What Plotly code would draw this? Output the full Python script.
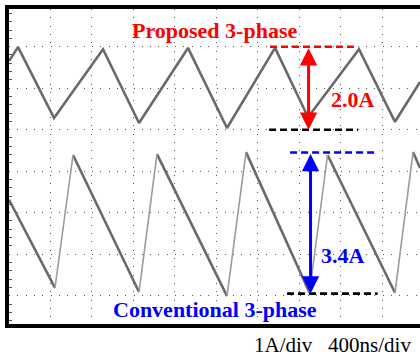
import plotly.graph_objects as go

# Oscilloscope capture: inductor current ripple, 1 A/div, 400 ns/div
# Time base in ns, current in A (0 A at the centre graticule line)

# Proposed 3-phase converter: symmetric triangular ripple (vertices)
prop_t = [5, 92, 439, 911, 1258, 1730, 2106, 2569, 2887, 3378, 3725, 3966]
prop_i = [2.655, 2.99, 1.28, 2.94, 1.16, 2.97, 1.04, 2.97, 1.30, 2.94, 1.19, 2.15]

# Conventional 3-phase converter: sawtooth ripple (vertices)
conv_t = [5, 448, 622, 1258, 1431, 2106, 2289, 2901, 3075, 3725, 3899, 3966]
conv_i = [-0.69, -2.81, 0.39, -2.91, 0.41, -3.01, 0.46, -2.93, 0.39, -2.93, 0.46, 0.08]

# Peak-to-peak ripple markers
prop_top, prop_pp = 3.0, 2.0
conv_bot, conv_pp = -2.95, 3.4
prop_arrow_t, conv_arrow_t = 2892, 2911
prop_top_span = (2520, 3349)
prop_bot_span = (2511, 3369)
conv_top_span = (2714, 3533)
conv_bot_span = (2684, 3557)

# Graticule: 10 horizontal / 8 vertical divisions
t_range = [4.8, 3966]
i_range = [-3.682, 3.908]
div_t, div_i = 400, 1

FONT = "Liberation Serif"
TRACE = "#6a6a6a"
EDGE = "#9c9c9c"


def split_edges(t, i):
    """Separate falling and rising segments so that the fast edges can be
    drawn thinner and lighter, as the scope renders them."""
    fall_x, fall_y, rise_x, rise_y = [], [], [], []
    for k in range(len(t) - 1):
        seg_x, seg_y = [t[k], t[k + 1], None], [i[k], i[k + 1], None]
        if i[k + 1] > i[k]:
            rise_x += seg_x
            rise_y += seg_y
        else:
            fall_x += seg_x
            fall_y += seg_y
    return fall_x, fall_y, rise_x, rise_y


fig = go.Figure()

fig.add_trace(go.Scatter(x=prop_t, y=prop_i, mode="lines",
                         line=dict(color=TRACE, width=2.6), hoverinfo="skip"))

fx, fy, rx, ry = split_edges(conv_t, conv_i)
fig.add_trace(go.Scatter(x=fx, y=fy, mode="lines",
                         line=dict(color=TRACE, width=2.6), hoverinfo="skip"))
fig.add_trace(go.Scatter(x=rx, y=ry, mode="lines",
                         line=dict(color=EDGE, width=1.6), hoverinfo="skip"))

# Dashed reference levels
dash = "7px,4px"
levels = [
    (prop_top_span, prop_top, "#ff0000"),
    (prop_bot_span, prop_top - prop_pp, "#000000"),
    (conv_top_span, conv_bot + conv_pp, "#0000ff"),
    (conv_bot_span, conv_bot, "#000000"),
]
for (x0, x1), yv, col in levels:
    fig.add_shape(type="line", x0=x0, x1=x1, y0=yv, y1=yv, xref="x", yref="y",
                  line=dict(color=col, width=2.6, dash=dash))

# Double-headed arrows spanning the ripple
arrows = [
    (prop_arrow_t, prop_top, prop_top - prop_pp, "#ff0000"),
    (conv_arrow_t, conv_bot + conv_pp, conv_bot, "#0000ff"),
]
for xa, y_hi, y_lo, col in arrows:
    fig.add_annotation(x=xa, y=y_lo, ax=xa, ay=y_hi, xref="x", yref="y",
                       axref="x", ayref="y", text="", showarrow=True,
                       arrowhead=2, arrowside="end+start", arrowsize=1.15,
                       arrowwidth=3, arrowcolor=col, standoff=0, startstandoff=0)

bold = dict(family=FONT, size=22)
fig.add_annotation(x=1986, y=3.40, text="<b>Proposed 3-phase</b>", showarrow=False,
                   font=dict(**bold, color="#ff0000"))
fig.add_annotation(x=3320, y=1.72, text=f"<b>{prop_pp:.1f}A</b>", showarrow=False,
                   font=dict(**bold, color="#ff0000"))
fig.add_annotation(x=3224, y=-2.04, text=f"<b>{conv_pp:.1f}A</b>", showarrow=False,
                   font=dict(**bold, color="#0000ff"))
fig.add_annotation(x=1990, y=-3.34, text="<b>Conventional 3-phase</b>", showarrow=False,
                   font=dict(**bold, color="#0000ff"))
fig.add_annotation(x=0.788, y=-0.067, xref="paper", yref="paper",
                   xanchor="center", yanchor="middle",
                   text="1A/div&nbsp;&nbsp;&nbsp;400ns/div", showarrow=False,
                   font=dict(family=FONT, size=21, color="#000000"))

grid = dict(showgrid=True, gridcolor="#555555", gridwidth=1, griddash="1px,7.3px",
            zeroline=False, showticklabels=False)

fig.update_xaxes(range=t_range, dtick=div_t, tick0=0, ticks="",
                 showline=True, linecolor="#000000", linewidth=3.5, mirror=True,
                 **grid)
fig.update_yaxes(range=i_range, dtick=div_i, tick0=0, ticks="",
                 showline=True, linecolor="#000000", linewidth=3.5, mirror=False,
                 minor=dict(dtick=0.2, tick0=0, ticks="inside", ticklen=3,
                            tickcolor="#555555", tickwidth=1, showgrid=False),
                 **grid)

fig.update_layout(width=420, height=361,
                  margin=dict(l=9, r=0, t=9, b=37),
                  paper_bgcolor="#ffffff", plot_bgcolor="#ffffff",
                  showlegend=False)

fig.write_html("out.html")
